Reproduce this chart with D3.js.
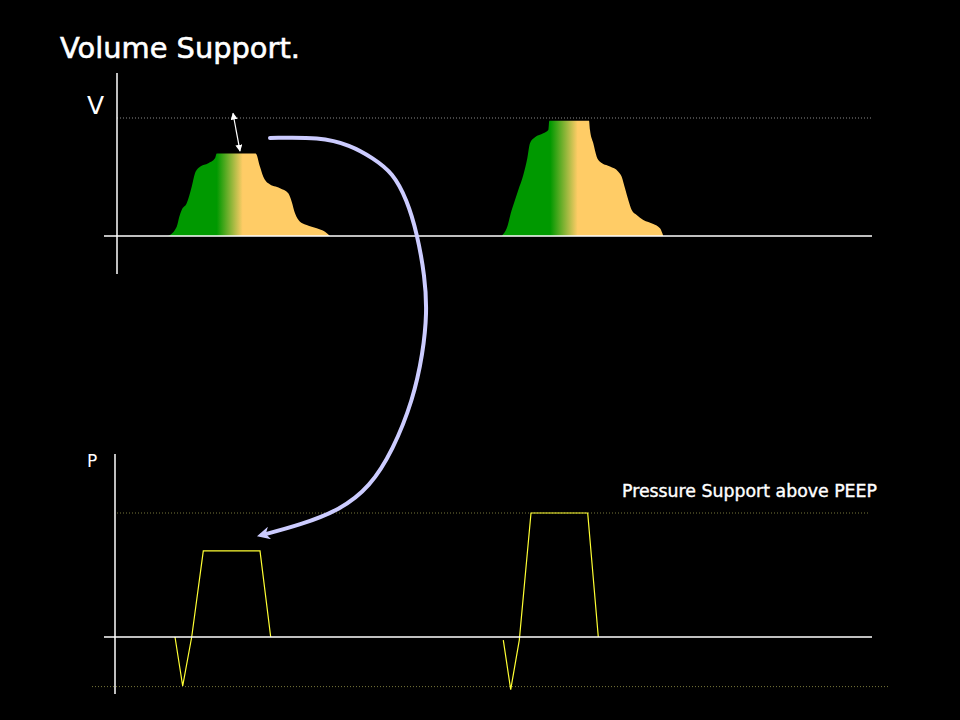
<!DOCTYPE html>
<html>
<head>
<meta charset="utf-8">
<script src="https://cdn.jsdelivr.net/npm/d3@7"></script>
<style>
  html, body { margin: 0; padding: 0; background: #000; }
  svg { display: block; }
</style>
</head>
<body>
<svg id="chart" width="960" height="720"></svg>
<script>
// ---------------- DATA ----------------
const titleText = "Volume Support.";
const volumeLabel = "V";
const pressureLabel = "P";
const psLabel = "Pressure Support above PEEP";

// Volume waveform, breath 1 (time s, relative volume; 1 = target volume)
const breath1Time = [0.513,0.597,0.623,0.647,0.697,0.747,0.78,0.83,0.913,0.98,0.997,1.387,1.43,1.463,1.513,1.63,1.713,1.747,1.78,1.83,1.897,1.997,2.08,2.13];
const breath1Vol  = [0,0.078,0.163,0.22,0.277,0.418,0.531,0.587,0.616,0.658,0.70,0.70,0.587,0.503,0.446,0.404,0.362,0.291,0.192,0.121,0.093,0.065,0.036,0];
// Volume waveform, breath 2
const breath2Time = [3.847,3.897,3.947,3.98,4.013,4.063,4.103,4.13,4.18,4.263,4.313,4.323,4.72,4.73,4.763,4.797,4.83,4.93,5.013,5.047,5.08,5.113,5.147,5.197,5.263,5.363,5.43,5.463];
const breath2Vol  = [0,0.065,0.22,0.305,0.39,0.517,0.658,0.785,0.836,0.870,0.898,0.977,0.977,0.898,0.785,0.672,0.629,0.588,0.545,0.503,0.404,0.305,0.22,0.178,0.136,0.102,0.065,0];
const targetVolume = 1;

// Pressure waveform (time s, cmH2O above PEEP)
const press1Time = [0.58,0.657,0.747,0.863,1.43,1.537];
const press1Val  = [0,-7.9,0,13.9,13.9,0];
const press2Time = [3.863,3.937,4.023,4.14,4.707,4.813];
const press2Val  = [-0.5,-8.5,-0.5,20,20,0];
const maxSupport = 20;
const triggerLevel = -8;

// Annotation: double arrow between V peak and target (time, volume)
const gapArrowTime = [1.16, 1.23];
const gapArrowVol  = [1.04, 0.72];
// Annotation: curved arrow (page coordinates of the sketch)
const curveX = [270,320,350,373,393,407,417,425,427,423,413,393,370,340,300,262];
const curveY = [138,137,145,158,173,200,233,277,313,353,400,450,487,510,525,535];

// ---------------- SCALES ----------------
const x = d3.scaleLinear().domain([0, 7.55]).range([117, 872]);
const yV = d3.scaleLinear().domain([0, 1]).range([236, 118]);
const yP = d3.scaleLinear().domain([0, 20]).range([637, 513]);

const svg = d3.select("#chart");
svg.append("rect").attr("width", 960).attr("height", 720).attr("fill", "#000");

const defs = svg.append("defs");
function grad(id, g1, o1) {
  const lg = defs.append("linearGradient").attr("id", id)
    .attr("x1", "0").attr("x2", "1").attr("y1", "0").attr("y2", "0");
  lg.append("stop").attr("offset", 0).attr("stop-color", "#009900");
  lg.append("stop").attr("offset", g1).attr("stop-color", "#009900");
  lg.append("stop").attr("offset", o1).attr("stop-color", "#FFCC66");
  lg.append("stop").attr("offset", 1).attr("stop-color", "#FFCC66");
}
grad("g1", 0.30, 0.46);
grad("g2", 0.30, 0.47);

defs.append("marker").attr("id", "wh").attr("viewBox", "0 0 10 10")
  .attr("refX", 9).attr("refY", 5).attr("markerWidth", 7).attr("markerHeight", 7)
  .attr("markerUnits", "userSpaceOnUse").attr("orient", "auto-start-reverse")
  .append("path").attr("d", "M0,0 L10,5 L0,10 Z").attr("fill", "#fff");
defs.append("marker").attr("id", "lav").attr("viewBox", "0 0 10 10")
  .attr("refX", 6).attr("refY", 5).attr("markerWidth", 16).attr("markerHeight", 13)
  .attr("markerUnits", "userSpaceOnUse").attr("orient", "auto")
  .append("path").attr("d", "M0,0 L10,5 L0,10 L3,5 Z").attr("fill", "#CCCCFF");

// ---------------- TITLE ----------------
function fitText(sel, width) {
  const w = sel.node().getComputedTextLength();
  const fs = parseFloat(sel.attr("font-size"));
  sel.attr("font-size", fs * width / w);
}
const title = svg.append("text").attr("x", 60).attr("y", 58)
  .attr("fill", "#fff").attr("font-family", "'DejaVu Sans', sans-serif")
  .attr("font-size", 30).attr("stroke", "#fff").attr("stroke-width", 0.6).text(titleText);
fitText(title, 240);

// ---------------- VOLUME PANEL ----------------
const vArea = d3.area().x(d => x(d[0])).y0(yV(0)).y1(d => yV(d[1])).curve(d3.curveMonotoneX);
svg.append("path").datum(d3.zip(breath1Time, breath1Vol)).attr("d", vArea).attr("fill", "url(#g1)");
svg.append("path").datum(d3.zip(breath2Time, breath2Vol)).attr("d", vArea).attr("fill", "url(#g2)");

// target dotted line
svg.append("line").attr("x1", x(0)).attr("x2", x(7.55))
  .attr("y1", yV(targetVolume)).attr("y2", yV(targetVolume))
  .attr("stroke", "#8a8a8a").attr("stroke-width", 1).attr("stroke-dasharray", "1,2");
// axes
svg.append("line").attr("x1", x(0)).attr("x2", x(0)).attr("y1", 73).attr("y2", 274)
  .attr("stroke", "#fff").attr("stroke-width", 1.5);
svg.append("line").attr("x1", 104).attr("x2", x(7.55)).attr("y1", yV(0)).attr("y2", yV(0))
  .attr("stroke", "#fff").attr("stroke-width", 1.5);
svg.append("text").attr("x", 87).attr("y", 114).attr("fill", "#fff")
  .attr("font-family", "'DejaVu Sans', sans-serif").attr("font-size", 25).text(volumeLabel);

// gap arrow
svg.append("line")
  .attr("x1", x(gapArrowTime[0])).attr("y1", yV(gapArrowVol[0]))
  .attr("x2", x(gapArrowTime[1])).attr("y2", yV(gapArrowVol[1]))
  .attr("stroke", "#fff").attr("stroke-width", 1.2)
  .attr("marker-start", "url(#wh)").attr("marker-end", "url(#wh)");

// ---------------- PRESSURE PANEL ----------------
svg.append("line").attr("x1", x(0)).attr("x2", 868)
  .attr("y1", yP(maxSupport)).attr("y2", yP(maxSupport))
  .attr("stroke", "#77773a").attr("stroke-width", 1).attr("stroke-dasharray", "1,2");
svg.append("line").attr("x1", 92).attr("x2", 890)
  .attr("y1", yP(triggerLevel)).attr("y2", yP(triggerLevel))
  .attr("stroke", "#77773a").attr("stroke-width", 1).attr("stroke-dasharray", "1,2");

const pLine = d3.line().x(d => x(d[0])).y(d => yP(d[1]));
[[press1Time, press1Val], [press2Time, press2Val]].forEach(([t, v]) => {
  svg.append("path").datum(d3.zip(t, v)).attr("d", pLine)
    .attr("fill", "none").attr("stroke", "#FFFF33").attr("stroke-width", 1.2);
});

svg.append("line").attr("x1", 115).attr("x2", 115).attr("y1", 454).attr("y2", 694)
  .attr("stroke", "#fff").attr("stroke-width", 1.5);
svg.append("line").attr("x1", 104).attr("x2", x(7.55)).attr("y1", yP(0)).attr("y2", yP(0))
  .attr("stroke", "#fff").attr("stroke-width", 1.5);
svg.append("text").attr("x", 87).attr("y", 467).attr("fill", "#fff")
  .attr("font-family", "'DejaVu Sans', sans-serif").attr("font-size", 17).text(pressureLabel);

const ps = svg.append("text").attr("x", 622).attr("y", 497).attr("fill", "#fff")
  .attr("font-family", "'DejaVu Sans', sans-serif")
  .attr("stroke", "#fff").attr("stroke-width", 0.4)
  .attr("font-size", 15).text(psLabel);
fitText(ps, 255);

// ---------------- CURVED ARROW ----------------
svg.append("path").datum(d3.zip(curveX, curveY))
  .attr("d", d3.line().curve(d3.curveBasis))
  .attr("fill", "none").attr("stroke", "#CCCCFF").attr("stroke-width", 4)
  .attr("stroke-linecap", "round").attr("marker-end", "url(#lav)");
</script>
</body>
</html>
